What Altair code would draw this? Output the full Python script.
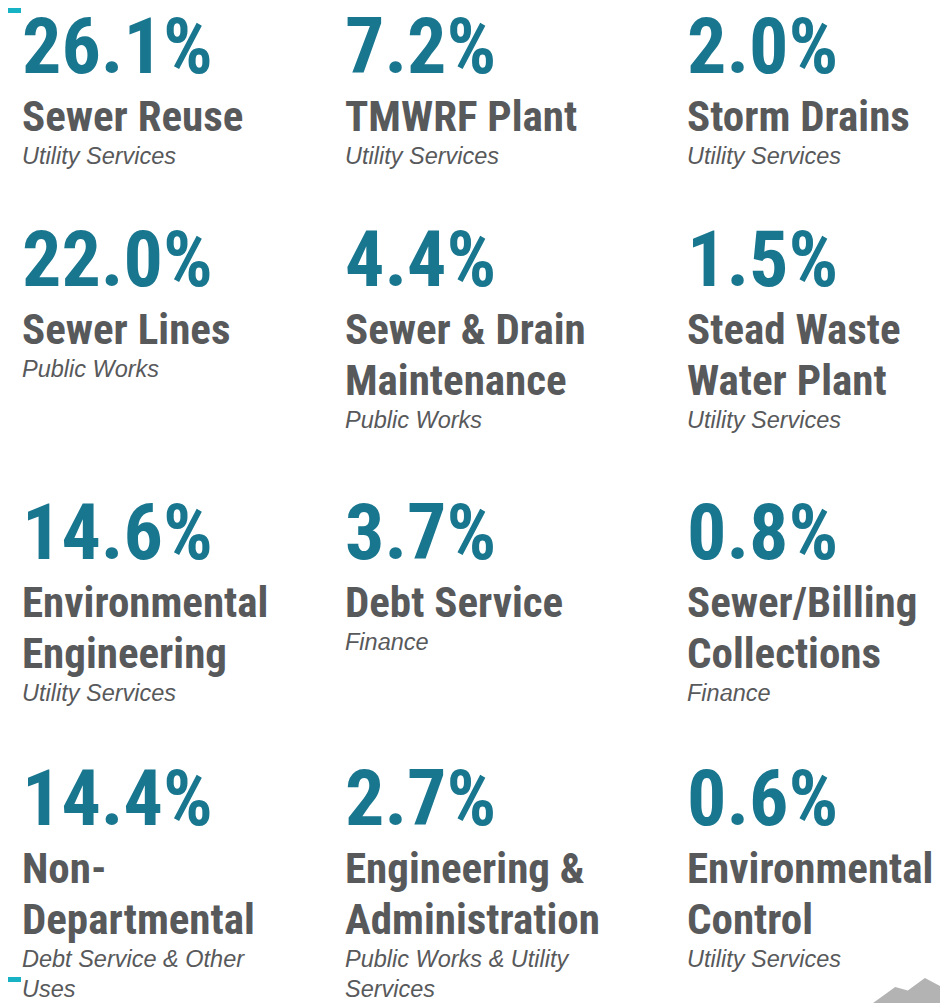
import altair as alt
import pandas as pd

# ---- data ----
shares = [26.1, 7.2, 2.0, 22.0, 4.4, 1.5, 14.6, 3.7, 0.8, 14.4, 2.7, 0.6]
names = [
    "Sewer Reuse", "TMWRF Plant", "Storm Drains",
    "Sewer Lines", "Sewer & Drain\nMaintenance", "Stead Waste\nWater Plant",
    "Environmental\nEngineering", "Debt Service", "Sewer/Billing\nCollections",
    "Non-\nDepartmental", "Engineering &\nAdministration", "Environmental\nControl",
]
departments = [
    "Utility Services", "Utility Services", "Utility Services",
    "Public Works", "Public Works", "Utility Services",
    "Utility Services", "Finance", "Finance",
    "Debt Service & Other\nUses", "Public Works & Utility\nServices", "Utility Services",
]

# ---- layout (style) ----
COL_X = [14, 337, 679]
ROW_BASE = [65, 278, 551, 817]
NAME_OFF, NAME_STEP, SUB_OFF, SUB_STEP = 58, 51, 33, 30

rows = []
for i, (v, n, d) in enumerate(zip(shares, names, departments)):
    r, c = divmod(i, 3)
    x = COL_X[c]
    base = ROW_BASE[r]
    rows.append({"x": x, "y": base, "text": f"{v:.1f}%", "kind": "pct"})
    nl = n.split("\n")
    for k, line in enumerate(nl):
        rows.append({"x": x, "y": base + NAME_OFF + NAME_STEP * k, "text": line, "kind": "name"})
    last = base + NAME_OFF + NAME_STEP * (len(nl) - 1)
    for j, line in enumerate(d.split("\n")):
        rows.append({"x": x, "y": last + SUB_OFF + SUB_STEP * j, "text": line, "kind": "sub"})

df = pd.DataFrame(rows)
base = alt.Chart(df)
X = alt.X("x:Q", scale=None, axis=None)
Y = alt.Y("y:Q", scale=None, axis=None)

COND = "Roboto Condensed, Roboto, sans-serif"

pct = base.transform_filter(alt.datum.kind == "pct").mark_text(
    align="left", baseline="alphabetic", font=COND,
    fontWeight="bold", fontSize=78, color="#19768f"
).encode(x=X, y=Y, text="text:N")

name = base.transform_filter(alt.datum.kind == "name").mark_text(
    align="left", baseline="alphabetic", font=COND,
    fontWeight="bold", fontSize=43, color="#58595b"
).encode(x=X, y=Y, text="text:N")

sub = base.transform_filter(alt.datum.kind == "sub").mark_text(
    align="left", baseline="alphabetic", font="Liberation Sans, Arial, sans-serif",
    fontStyle="italic", fontSize=23.5, color="#58595b"
).encode(x=X, y=Y, text="text:N")

tick_top = alt.Chart(pd.DataFrame({"k": [0]})).mark_rect(color="#17b2c4").encode(
    x=alt.value(0), x2=alt.value(13), y=alt.value(0), y2=alt.value(5))
tick_bot = alt.Chart(pd.DataFrame({"k": [0]})).mark_rect(color="#17b2c4").encode(
    x=alt.value(0), x2=alt.value(13), y=alt.value(969), y2=alt.value(974))

mountain = alt.Chart(pd.DataFrame({"k": [0]})).mark_point(
    shape="M-0.9,0.3 L-0.24,-0.18 L0.04,-0.1 L0.42,-0.38 L0.95,-0.1 L0.95,0.3 Z",
    filled=True, color="#b3b3b3", opacity=1, size=8100
).encode(x=alt.value(898), y=alt.value(987))

chart = alt.layer(pct, name, sub, tick_top, tick_bot, mountain).properties(
    width=932, height=995, padding=0, background="white",
    autosize=alt.AutoSizeParams(type="none")
).configure_view(stroke=None)

chart.save("out.html", embed_options={"renderer": "svg", "actions": False})
